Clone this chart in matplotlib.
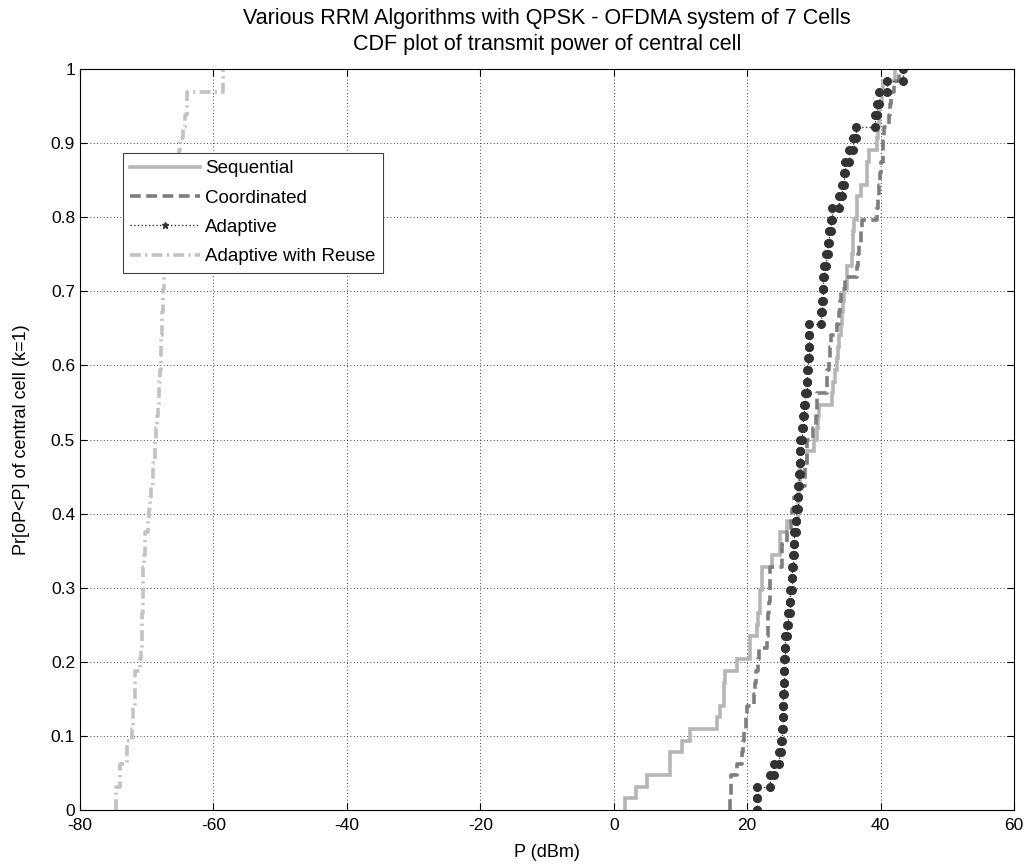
import numpy as np
import matplotlib
matplotlib.use("Agg")
import matplotlib.pyplot as plt
from matplotlib.lines import Line2D

plt.rcParams.update({
    'font.family': 'Liberation Sans',
    'font.size': 12,
    'axes.unicode_minus': False,
})

# estimated transmit power samples (dBm), 64 per algorithm
sequential = [1.75, 3.4, 5.0, 8.4, 8.5, 10.3, 11.5, 15.5, 16.0, 16.5, 16.6, 16.7,
              18.5, 20.4, 20.5, 21.5, 21.6, 21.9, 22.0, 22.2, 22.3, 23.8, 24.9, 25.0,
              26.0, 27.6, 27.7, 27.8, 27.9, 28.0, 29.0, 30.0, 30.5, 30.6, 30.7, 32.7,
              32.8, 33.2, 33.5, 33.6, 33.7, 34.1, 34.2, 34.4, 34.5, 34.9, 35.0, 35.7,
              35.8, 35.9, 36.0, 36.4, 36.5, 37.0, 37.9, 38.0, 38.3, 39.5, 39.6, 39.7,
              39.7, 40.2, 40.3, 42.2]
coordinated = [17.5, 17.6, 17.6, 18.5, 19.3, 19.4, 19.5, 19.9, 20.0, 21.1, 21.2, 21.3,
               21.7, 21.8, 23.0, 23.1, 23.2, 23.3, 23.4, 23.4, 23.5, 25.2, 25.3, 26.0,
               26.6, 26.8, 27.0, 28.0, 28.6, 28.7, 28.9, 29.0, 29.8, 30.3, 30.4, 30.5,
               31.9, 32.0, 32.3, 32.4, 32.5, 33.5, 33.8, 33.9, 34.0, 34.7, 36.5, 36.6,
               36.7, 37.1, 37.2, 39.5, 39.6, 39.7, 39.9, 40.0, 40.3, 40.4, 40.5, 41.3,
               41.4, 41.5, 42.0, 42.7]
adaptive = [21.5, 21.5, 23.5, 24.0, 24.75, 25.1, 25.25, 25.35, 25.4, 25.45, 25.5, 25.5,
            25.6, 25.7, 25.75, 26.0, 26.2, 26.4, 26.5, 26.7, 26.8, 26.9, 27.0, 27.1,
            27.3, 27.4, 27.6, 27.7, 27.8, 27.9, 28.0, 28.0, 28.2, 28.4, 28.5, 28.7,
            28.9, 29.0, 29.1, 29.2, 29.2, 29.25, 31.0, 31.2, 31.3, 31.4, 31.5, 31.8,
            32.1, 32.3, 32.5, 32.7, 33.7, 34.2, 34.5, 34.7, 35.3, 35.8, 36.3, 39.2,
            39.5, 39.7, 41.0, 43.4]
adaptive_reuse = [-74.6, -74.6, -74.0, -74.0, -73.0, -73.0, -72.2, -72.1, -72.0, -71.8,
                  -71.75, -71.7, -71.0, -70.8, -70.75, -70.7, -70.65, -70.6, -70.55, -70.5,
                  -70.5, -70.4, -70.3, -70.25, -69.75, -69.6, -69.5, -69.3, -69.1, -69.0,
                  -68.8, -68.7, -68.6, -68.4, -68.25, -68.2, -68.1, -68.0, -67.9, -67.85,
                  -67.8, -67.7, -67.65, -67.6, -67.5, -67.4, -67.2, -67.1, -67.0, -66.9,
                  -66.7, -66.6, -66.5, -66.2, -66.0, -65.5, -65.2, -65.0, -64.5, -64.2,
                  -64.0, -63.9, -58.5, -58.5]

labels = ['Sequential', 'Coordinated', 'Adaptive', 'Adaptive with Reuse']


def ecdf(samples):
    x = np.sort(np.asarray(samples, dtype=float))
    y = np.arange(1, len(x) + 1) / len(x)
    return np.r_[x[0], x], np.r_[0.0, y]


def stair_vertices(x, y):
    # corner points of the staircase (like stairs() in matlab)
    xs = np.repeat(x, 2)[1:]
    ys = np.repeat(y, 2)[:-1]
    return xs, ys


fig = plt.figure(figsize=(10.33, 8.68), dpi=100)
ax = fig.add_axes([0.0774, 0.0668, 0.9042, 0.8537])

c_seq = '#b5b5b5'
c_coord = '#7d7d7d'
c_adapt = '#333333'
c_reuse = '#c2c2c2'

x, y = ecdf(sequential)
ax.plot(x, y, drawstyle='steps-post', color=c_seq, lw=2.6, solid_joinstyle='miter')
x, y = ecdf(coordinated)
ax.plot(x, y, drawstyle='steps-post', color=c_coord, lw=2.6, ls=(0, (3, 1.5)))
x, y = ecdf(adaptive)
xs, ys = stair_vertices(x, y)
ax.plot(xs, ys, color=c_adapt, lw=1.0, ls=':', marker='o', ms=5.5)
x, y = ecdf(adaptive_reuse)
ax.plot(x, y, drawstyle='steps-post', color=c_reuse, lw=2.6, ls=(0, (3, 1.2, 0.6, 1.2)))

ax.set_xlim(-80, 60)
ax.set_ylim(0, 1)
ax.set_xticks(np.arange(-80, 61, 20))
ax.set_yticks(np.arange(0, 1.01, 0.1))
ax.set_yticklabels(['0', '0.1', '0.2', '0.3', '0.4', '0.5', '0.6', '0.7', '0.8', '0.9', '1'])
ax.grid(True, color='black', ls=(0, (1, 3)), lw=0.6)
ax.tick_params(direction='in', length=5, top=True, right=True, labelsize=12.5)
ax.tick_params(axis='x', pad=6)
for s in ax.spines.values():
    s.set_linewidth(0.8)

ax.set_title('Various RRM Algorithms with QPSK - OFDMA system of 7 Cells\n'
             'CDF plot of transmit power of central cell', fontsize=15.5, pad=14,
             linespacing=1.3)
ax.set_xlabel('P (dBm)', fontsize=13, labelpad=8)
ax.set_ylabel('Pr[oP<P] of central cell (k=1)', fontsize=13, labelpad=15)

handles = [
    Line2D([], [], color=c_seq, lw=2.6),
    Line2D([], [], color=c_coord, lw=2.6, ls=(0, (3, 1.5))),
    Line2D([], [], color=c_adapt, lw=1.0, ls=':', marker='*', ms=5, markevery=[1]),
    Line2D([], [], color=c_reuse, lw=2.6, ls=(0, (3, 1.2, 0.6, 1.2))),
]
leg = ax.legend(handles, labels, loc='upper left', bbox_to_anchor=(0.046, 0.887),
                fancybox=False, framealpha=1, edgecolor='#404040', fontsize=13.5,
                handlelength=3.7, borderaxespad=0, borderpad=0.4, labelspacing=0.65,
                handletextpad=0.3)
leg.get_frame().set_linewidth(0.8)

fig.savefig('out.png', dpi=100)
